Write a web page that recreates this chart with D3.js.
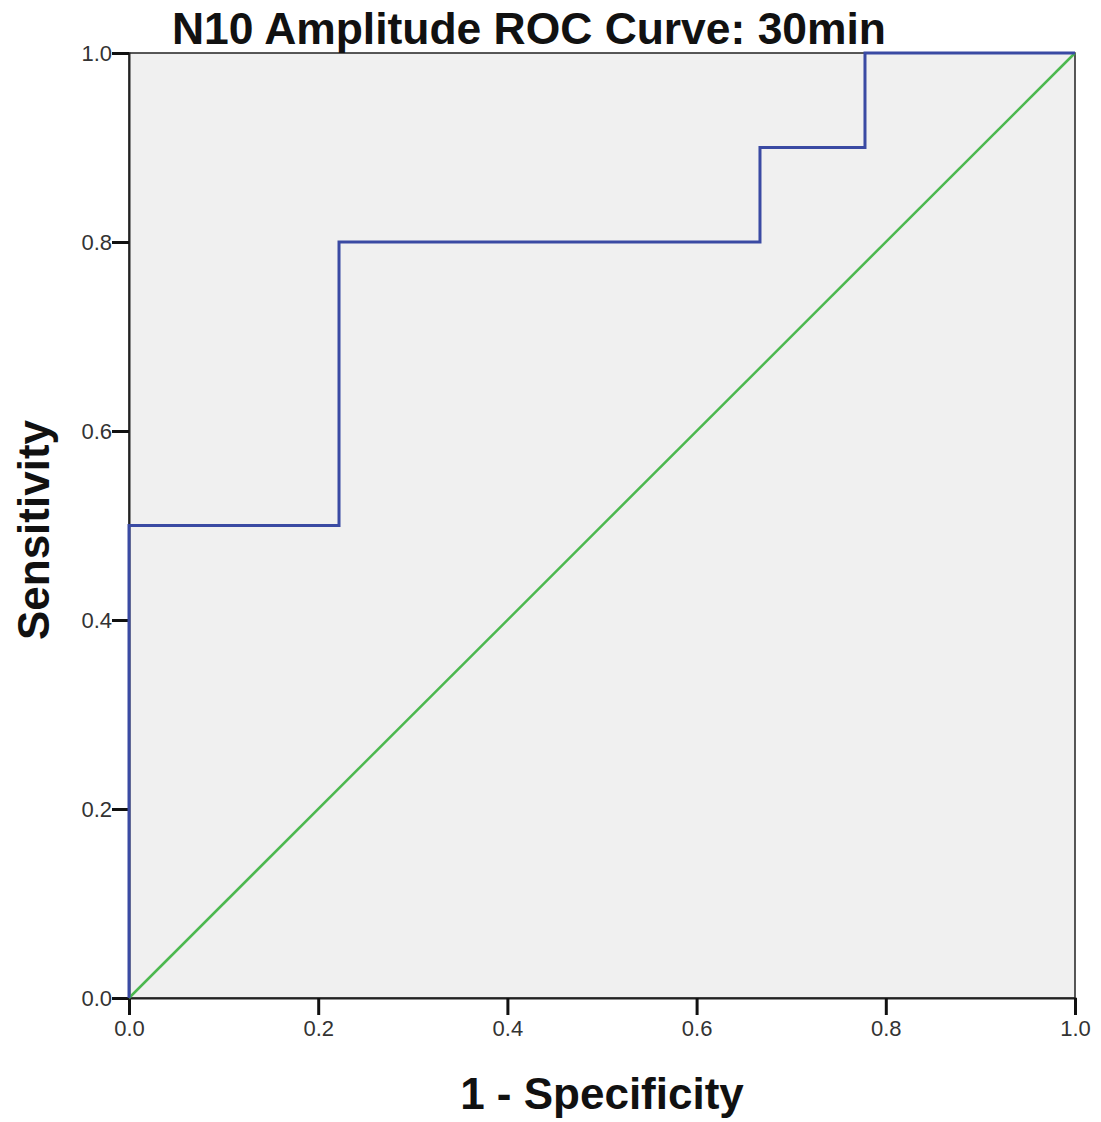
<!DOCTYPE html>
<html>
<head>
<meta charset="utf-8">
<script src="https://cdn.jsdelivr.net/npm/d3@7"></script>
<style>
body { margin: 0; background: #fff; }
</style>
</head>
<body>
<div></div>
<script>
var width = 1101;
var height = 1122;

// ROC steps
var fpr = [0, 0, 0.222, 0.222, 0.667, 0.667, 0.778, 0.778, 1];
var tpr = [0, 0.5, 0.5, 0.8, 0.8, 0.9, 0.9, 1, 1];
var refX = [0, 1];
var refY = [0, 1];
var tickVals = [0, 0.2, 0.4, 0.6, 0.8, 1.0];

var plotLeft = 129, plotRight = 1075, plotTop = 53, plotBottom = 998;

var svg = d3.select("div")
	.append("svg")
	.attr("width", width)
	.attr("height", height)
	.style("font-family", "'Liberation Sans', Arial, sans-serif");

var x = d3.scaleLinear().domain([0, 1]).range([plotLeft, plotRight]);
var y = d3.scaleLinear().domain([0, 1]).range([plotBottom, plotTop]);

svg.append("rect")
	.attr("x", plotLeft)
	.attr("y", plotTop)
	.attr("width", plotRight - plotLeft)
	.attr("height", plotBottom - plotTop)
	.attr("fill", "#f0f0f0")
	.attr("stroke", "#222")
	.attr("stroke-width", 1.5);

var xAxis = svg.append("g")
	.attr("transform", "translate(0," + plotBottom + ")")
	.call(d3.axisBottom(x).tickValues(tickVals).tickFormat(d3.format(".1f")).tickSize(17).tickPadding(5));

var yAxis = svg.append("g")
	.attr("transform", "translate(" + plotLeft + ",0)")
	.call(d3.axisLeft(y).tickValues(tickVals).tickFormat(d3.format(".1f")).tickSize(17).tickPadding(0));

[xAxis, yAxis].forEach(g => {
	g.select(".domain").attr("stroke", "#222").attr("stroke-width", 2);
	g.selectAll(".tick line").attr("stroke", "#111").attr("stroke-width", 3);
	g.selectAll(".tick text").attr("font-size", 22).attr("fill", "#333");
});

var line = d3.line().x(d => x(d[0])).y(d => y(d[1]));

svg.append("path")
	.datum(refX.map((v, i) => [v, refY[i]]))
	.attr("d", line)
	.attr("fill", "none")
	.attr("stroke", "#4cb84f")
	.attr("stroke-width", 2.5);

svg.append("path")
	.datum(fpr.map((v, i) => [v, tpr[i]]))
	.attr("d", line)
	.attr("fill", "none")
	.attr("stroke", "#3a4aa3")
	.attr("stroke-width", 3);

svg.append("text")
	.attr("x", 529)
	.attr("y", 44)
	.attr("text-anchor", "middle")
	.attr("font-size", 44)
	.attr("font-weight", "bold")
	.attr("fill", "#111")
	.attr("textLength", 714)
	.attr("lengthAdjust", "spacingAndGlyphs")
	.text("N10 Amplitude ROC Curve: 30min");

svg.append("text")
	.attr("x", 602)
	.attr("y", 1109)
	.attr("text-anchor", "middle")
	.attr("font-size", 44)
	.attr("font-weight", "bold")
	.attr("fill", "#111")
	.text("1 - Specificity");

svg.append("text")
	.attr("transform", "translate(49,530) rotate(-90)")
	.attr("text-anchor", "middle")
	.attr("font-size", 44)
	.attr("font-weight", "bold")
	.attr("fill", "#111")
	.text("Sensitivity");
</script>
</body>
</html>
